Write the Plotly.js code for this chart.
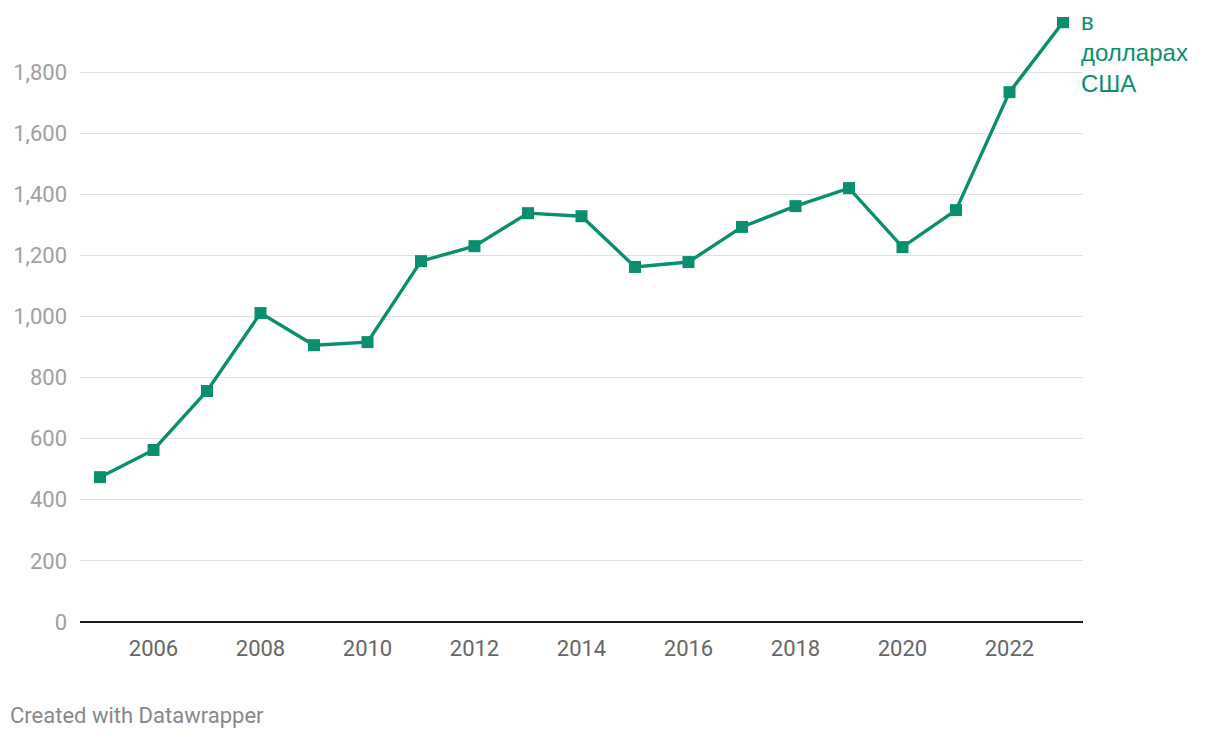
<!DOCTYPE html>
<html>
<head>
<meta charset="utf-8">
<script src="https://cdn.plot.ly/plotly-3.0.1.min.js"></script>
<style>
  html, body { margin: 0; padding: 0; background: #fff; }
  #chart { width: 1220px; height: 738px; }
</style>
</head>
<body>
<div id="chart"></div>
<script>
// Years and values
const years = [2005, 2006, 2007, 2008, 2009, 2010, 2011, 2012, 2013, 2014,
               2015, 2016, 2017, 2018, 2019, 2020, 2021, 2022, 2023];
const values = [474, 563, 756, 1011, 906, 916, 1181, 1230, 1338, 1328,
                1162, 1178, 1293, 1361, 1420, 1227, 1348, 1734, 1963];
const yTicks = [0, 200, 400, 600, 800, 1000, 1200, 1400, 1600, 1800];
const xTicks = [2006, 2008, 2010, 2012, 2014, 2016, 2018, 2020, 2022];
const seriesLabel = 'в<br>долларах<br>США';

const green = '#0a8f6e';

const trace = {
    x: years,
    y: values,
    type: 'scatter',
    mode: 'lines+markers',
    line: { color: green, width: 3.4 },
    marker: { symbol: 'square', size: 12, color: green },
    hoverinfo: 'x+y'
};

const layout = {
    width: 1220,
    height: 738,
    paper_bgcolor: '#ffffff',
    plot_bgcolor: '#ffffff',
    margin: { l: 80, r: 137, t: 17, b: 116 },
    showlegend: false,
    font: { family: 'Roboto, sans-serif' },
    xaxis: {
        range: [2004.626, 2023.374],
        tickvals: xTicks,
        ticktext: xTicks.map(String),
        showgrid: false,
        zeroline: false,
        showline: false,
        ticks: '',
        ticklabelstandoff: 11,
        tickfont: { family: 'Roboto, sans-serif', size: 22, color: '#666666' }
    },
    yaxis: {
        range: [0, 1980],
        tickvals: yTicks,
        ticktext: yTicks.map(v => v.toLocaleString('en-US')),
        showgrid: true,
        gridcolor: '#e0e0e0',
        gridwidth: 1,
        zeroline: true,
        zerolinecolor: '#1a1a1a',
        zerolinewidth: 2,
        ticks: '',
        ticklabelstandoff: 12,
        tickfont: { family: 'Roboto, sans-serif', size: 22, color: '#a0a0a0' }
    },
    annotations: [
        {
            x: years[years.length - 1],
            y: values[values.length - 1],
            xref: 'x',
            yref: 'y',
            text: seriesLabel,
            showarrow: false,
            xanchor: 'left',
            yanchor: 'top',
            align: 'left',
            xshift: 16,
            yshift: 16,
            font: { family: 'Liberation Sans, Arial, sans-serif', size: 24, color: green }
        },
        {
            x: 0,
            y: 0,
            xref: 'paper',
            yref: 'paper',
            xanchor: 'left',
            yanchor: 'bottom',
            xshift: -72,
            yshift: -108,
            text: 'Created with Datawrapper',
            showarrow: false,
            font: { family: 'Roboto, sans-serif', size: 22, color: '#888888' }
        }
    ]
};

Plotly.newPlot('chart', [trace], layout, { displayModeBar: false, responsive: false });
</script>
</body>
</html>
